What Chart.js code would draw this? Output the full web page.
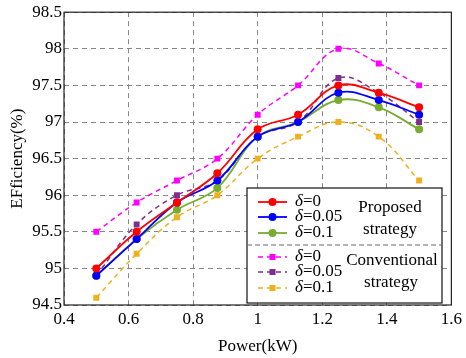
<!DOCTYPE html>
<html>
<head>
<meta charset="utf-8">
<script src="https://cdn.jsdelivr.net/npm/chart.js@4"></script>
<style>
  html, body { margin: 0; padding: 0; background: #fff; }
  #wrap { width: 466px; height: 358px; }
</style>
</head>
<body>
<div id="wrap"><canvas id="chart" width="466" height="358"></canvas></div>
<script>
const power = [0.5, 0.625, 0.75, 0.875, 1.0, 1.125, 1.25, 1.375, 1.5];

const propD0 = [95.0, 95.5, 95.9, 96.3, 96.9, 97.1, 97.5, 97.4, 97.2];
const propD005 = [94.9, 95.4, 95.9, 96.2, 96.8, 97.0, 97.4, 97.3, 97.1];
const propD01 = [94.9, 95.4, 95.8, 96.1, 96.8, 97.0, 97.3, 97.2, 96.9];
const convD0 = [95.5, 95.9, 96.2, 96.5, 97.1, 97.5, 98.0, 97.8, 97.5];
const convD005 = [94.9, 95.6, 96.0, 96.2, 96.8, 97.0, 97.6, 97.4, 97.0];
const convD01 = [94.6, 95.2, 95.7, 96.0, 96.5, 96.8, 97.0, 96.8, 96.2];

const font = "'Liberation Serif', 'Times New Roman', serif";

const toXY = arr => arr.map((v, i) => ({ x: power[i], y: v }));

const solid = (label, data, color) => ({
    label: label,
    data: toXY(data),
    borderColor: color,
    backgroundColor: color,
    borderWidth: 1.8,
    pointStyle: 'circle',
    pointRadius: 4,
    pointBorderWidth: 0,
    tension: 0.4
});

const dashed = (label, data, color) => ({
    label: label,
    data: toXY(data),
    borderColor: color,
    backgroundColor: color,
    borderWidth: 1.5,
    borderDash: [5, 4],
    pointStyle: 'rect',
    pointRadius: 4.2,
    pointBorderWidth: 0,
    tension: 0.4
});

// legend box like the original figure
const boxLegend = {
    id: 'boxLegend',
    afterDraw(chart) {
        const ctx = chart.ctx;
        const a = chart.chartArea;
        ctx.save();
        ctx.setLineDash([]);
        ctx.strokeStyle = '#222';
        ctx.lineWidth = 1.2;
        ctx.strokeRect(a.left, a.top, a.right - a.left, a.bottom - a.top);

        const L = 247, T = 188, R = 442, B = 303;
        ctx.fillStyle = '#fff';
        ctx.fillRect(L, T, R - L, B - T);
        ctx.strokeStyle = '#111';
        ctx.lineWidth = 1.2;
        ctx.strokeRect(L, T, R - L, B - T);
        ctx.strokeStyle = '#666';
        ctx.setLineDash([5, 3]);
        ctx.beginPath();
        ctx.moveTo(L, 245);
        ctx.lineTo(R, 245);
        ctx.stroke();

        const rows = [
            { y: 202, ds: chart.data.datasets[0], t: '0' },
            { y: 217, ds: chart.data.datasets[1], t: '0.05' },
            { y: 233, ds: chart.data.datasets[2], t: '0.1' },
            { y: 257, ds: chart.data.datasets[3], t: '0' },
            { y: 272, ds: chart.data.datasets[4], t: '0.05' },
            { y: 288, ds: chart.data.datasets[5], t: '0.1' }
        ];
        rows.forEach((r, i) => {
            const c = r.ds.borderColor;
            ctx.strokeStyle = c;
            ctx.fillStyle = c;
            ctx.lineWidth = r.ds.borderWidth;
            ctx.setLineDash(i < 3 ? [] : [5, 4]);
            ctx.beginPath();
            ctx.moveTo(258, r.y);
            ctx.lineTo(287, r.y);
            ctx.stroke();
            ctx.setLineDash([]);
            if (i < 3) {
                ctx.beginPath();
                ctx.arc(272.5, r.y, 4, 0, Math.PI * 2);
                ctx.fill();
            } else {
                ctx.fillRect(269.5, r.y - 3, 6, 6);
            }
            ctx.fillStyle = '#000';
            ctx.textBaseline = 'middle';
            ctx.textAlign = 'left';
            ctx.font = 'italic 17px ' + font;
            ctx.fillText('δ', 295, r.y);
            const w = ctx.measureText('δ').width;
            ctx.font = '17px ' + font;
            ctx.fillText('=' + r.t, 295 + w, r.y);
        });

        ctx.fillStyle = '#000';
        ctx.textAlign = 'center';
        ctx.font = '17px ' + font;
        ctx.fillText('Proposed', 390, 208);
        ctx.fillText('strategy', 390, 230);
        ctx.fillText('Conventional', 392, 261);
        ctx.fillText('strategy', 391, 283);
        ctx.restore();
    }
};

new Chart(document.getElementById('chart'), {
    type: 'line',
    data: {
        datasets: [
            solid('δ=0', propD0, '#ff0000'),
            solid('δ=0.05', propD005, '#0000ff'),
            solid('δ=0.1', propD01, '#77ac30'),
            dashed('δ=0', convD0, '#ff00ff'),
            dashed('δ=0.05', convD005, '#7e2f8e'),
            dashed('δ=0.1', convD01, '#edb120')
        ]
    },
    options: {
        responsive: false,
        animation: false,
        layout: { padding: { top: 12, right: 14, left: 0, bottom: 0 } },
        plugins: {
            legend: { display: false },
            tooltip: { enabled: false }
        },
        scales: {
            x: {
                type: 'linear',
                min: 0.4,
                max: 1.6,
                ticks: {
                    stepSize: 0.2,
                    color: '#000',
                    font: { family: font, size: 17 },
                    padding: 4,
                    maxRotation: 0,
                    callback: v => String(parseFloat(v.toFixed(1)))
                },
                grid: { color: '#888', lineWidth: 1, tickLength: 0 },
                border: { display: false, dash: [5, 4] },
                title: {
                    display: true,
                    text: 'Power(kW)',
                    color: '#000',
                    font: { family: font, size: 17 },
                    padding: { top: 4, bottom: 1 }
                },
                afterFit: s => { s.height = 53; }
            },
            y: {
                min: 94.5,
                max: 98.5,
                ticks: {
                    stepSize: 0.5,
                    color: '#000',
                    font: { family: font, size: 17 },
                    padding: 2,
                    callback: v => String(parseFloat(v.toFixed(1)))
                },
                grid: { color: '#888', lineWidth: 1, tickLength: 0 },
                border: { display: false, dash: [5, 4] },
                title: {
                    display: true,
                    text: 'EFficiency(%)',
                    color: '#000',
                    font: { family: font, size: 17 },
                    padding: { top: 7, bottom: 0 }
                },
                afterFit: s => { s.width = 64; }
            }
        }
    },
    plugins: [boxLegend]
});
</script>
</body>
</html>
